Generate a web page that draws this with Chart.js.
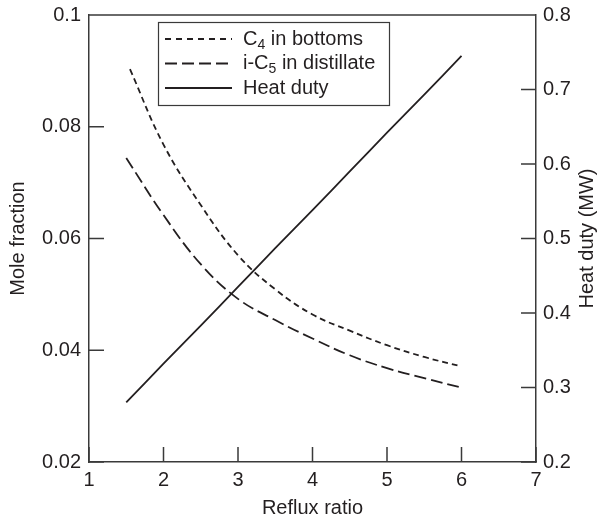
<!DOCTYPE html>
<html>
  <head>
    <meta charset="utf-8"/>
    <style type="text/css">
      body {
        margin: 0px;
        padding: 0px;
        background: #ffffff;
      }
      #wrap {
        width: 599px;
        height: 523px;
      }
    </style>
  </head>
  <body>
    <div id="wrap"><canvas id="chart" width="599" height="523"></canvas></div>
  </body>
  <script src="https://cdn.jsdelivr.net/npm/chart.js@4.4.1/dist/chart.umd.min.js"></script>
  <script>
    // values
    var refluxC4 = [1.55, 2, 2.5, 3, 3.5, 4, 4.5, 5, 5.5, 6];
    var c4Bottoms = [0.0903, 0.0768, 0.0660, 0.0570, 0.0509, 0.0464, 0.0435, 0.0409, 0.0388, 0.0371];

    var refluxIC5 = [1.5, 2, 2.5, 3, 3.5, 4, 4.5, 5, 5.5, 6];
    var ic5Distillate = [0.0744, 0.0642, 0.0554, 0.0492, 0.0454, 0.0421, 0.0391, 0.0368, 0.0350, 0.0333];

    var refluxHeat = [1.5, 2, 2.5, 3, 3.5, 4, 4.5, 5, 5.5, 6];
    var heatDuty = [0.280, 0.332, 0.383, 0.435, 0.487, 0.538, 0.590, 0.642, 0.693, 0.745];

    var seriesNames = ['C_4 in bottoms', 'i-C_5 in distillate', 'Heat duty'];

    var xTicks = [1, 2, 3, 4, 5, 6, 7];
    var leftTicks = [0.02, 0.04, 0.06, 0.08, 0.1];
    var leftLabels = ['0.02', '0.04', '0.06', '0.08', '0.1'];
    var rightTicks = [0.2, 0.3, 0.4, 0.5, 0.6, 0.7, 0.8];
    var rightLabels = ['0.2', '0.3', '0.4', '0.5', '0.6', '0.7', '0.8'];
    var rightTitle = 'Heat duty (MW)';

    var INK = '#231f20';
    var AXIS = '#3a3a3a';
    var FONT = '"Liberation Sans", Arial, sans-serif';
    var TICK = 15;

    function pts(xs, ys) {
      return xs.map(function(x, i) { return {x: x, y: ys[i]}; });
    }
    function fixTicks(values) {
      return function(scale) {
        scale.ticks = values.map(function(v) { return {value: v}; });
      };
    }
    function fitWidth(w) {
      return function(s) {
        s.width = w;
        s.paddingTop = 4;
        s.paddingBottom = 4;
      };
    }

    // little tick marks pointing into the plot, the top frame line,
    // and the right title (reads bottom to top, chart.js turns it the other way)
    var inwardTicks = {
      id: 'inwardTicks',
      afterDatasetsDraw: function(chart) {
        var ctx = chart.ctx, a = chart.chartArea, s = chart.scales;
        ctx.save();
        ctx.strokeStyle = AXIS;
        ctx.lineWidth = 1.5;
        ctx.beginPath();
        ctx.moveTo(a.left, a.top);
        ctx.lineTo(a.right, a.top);
        s.x.ticks.forEach(function(t) {
          var p = s.x.getPixelForValue(t.value);
          ctx.moveTo(p, a.bottom);
          ctx.lineTo(p, a.bottom - TICK);
        });
        s.y.ticks.forEach(function(t) {
          var p = s.y.getPixelForValue(t.value);
          ctx.moveTo(a.left, p);
          ctx.lineTo(a.left + TICK, p);
        });
        s.y2.ticks.forEach(function(t) {
          var p = s.y2.getPixelForValue(t.value);
          ctx.moveTo(a.right, p);
          ctx.lineTo(a.right - TICK, p);
        });
        ctx.stroke();

        ctx.translate(s.y2.right - 12, (a.top + a.bottom) / 2);
        ctx.rotate(-Math.PI / 2);
        ctx.fillStyle = INK;
        ctx.font = '20px ' + FONT;
        ctx.textAlign = 'center';
        ctx.textBaseline = 'middle';
        ctx.fillText(rightTitle, 0, 0);
        ctx.restore();
      }
    };

    // boxed legend with subscripts (text after "_" is one subscript char)
    var boxLegend = {
      id: 'boxLegend',
      afterDatasetsDraw: function(chart) {
        var ctx = chart.ctx;
        var bx = 158, by = 22, bw = 231, bh = 83;
        ctx.save();
        ctx.fillStyle = '#ffffff';
        ctx.fillRect(bx, by, bw, bh);
        ctx.strokeStyle = AXIS;
        ctx.lineWidth = 1.2;
        ctx.strokeRect(bx + 0.5, by + 0.5, bw, bh);
        chart.data.datasets.forEach(function(ds, i) {
          var y = by + 17 + i * 24.5;
          ctx.strokeStyle = ds.borderColor;
          ctx.lineWidth = ds.borderWidth;
          ctx.setLineDash(ds.legendDash || []);
          ctx.beginPath();
          ctx.moveTo(bx + 7, y);
          ctx.lineTo(bx + 74, y);
          ctx.stroke();
          ctx.setLineDash([]);
          var x = bx + 85;
          var parts = seriesNames[i].split('_');
          ctx.fillStyle = INK;
          ctx.textBaseline = 'middle';
          ctx.font = '20px ' + FONT;
          ctx.fillText(parts[0], x, y);
          x += ctx.measureText(parts[0]).width;
          if (parts.length > 1) {
            ctx.font = '14px ' + FONT;
            ctx.fillText(parts[1].charAt(0), x, y + 6);
            x += ctx.measureText(parts[1].charAt(0)).width;
            ctx.font = '20px ' + FONT;
            ctx.fillText(parts[1].slice(1), x, y);
          }
        });
        ctx.restore();
      }
    };

    var data = {
      datasets: [{
        label: seriesNames[0],
        data: pts(refluxC4, c4Bottoms),
        yAxisID: 'y',
        borderColor: INK,
        borderWidth: 1.8,
        borderDash: [6, 4],
        legendDash: [6, 5]
      }, {
        label: seriesNames[1],
        data: pts(refluxIC5, ic5Distillate),
        yAxisID: 'y',
        borderColor: INK,
        borderWidth: 1.8,
        borderDash: [12, 5],
        legendDash: [12, 5]
      }, {
        label: seriesNames[2],
        data: pts(refluxHeat, heatDuty),
        yAxisID: 'y2',
        borderColor: INK,
        borderWidth: 1.8
      }]
    };

    var tickFont = {family: FONT, size: 20};

    var options = {
      responsive: false,
      animation: false,
      devicePixelRatio: 1,
      layout: {padding: {top: 15, left: 0, right: 0, bottom: 0}},
      elements: {
        point: {radius: 0},
        line: {tension: 0.4}
      },
      plugins: {
        legend: {display: false},
        tooltip: {enabled: false}
      },
      scales: {
        x: {
          type: 'linear',
          min: 1,
          max: 7,
          afterBuildTicks: fixTicks(xTicks),
          afterFit: function(s) { s.height = 61; },
          grid: {display: false, drawTicks: false},
          border: {display: true, color: AXIS, width: 1.5},
          ticks: {color: INK, font: tickFont, padding: 6},
          title: {display: true, text: 'Reflux ratio', color: INK, font: tickFont, padding: {top: 0, bottom: 3}}
        },
        y: {
          type: 'linear',
          position: 'left',
          min: 0.02,
          max: 0.1,
          afterBuildTicks: fixTicks(leftTicks),
          afterFit: fitWidth(89),
          grid: {display: false, drawTicks: false},
          border: {display: true, color: AXIS, width: 1.5},
          ticks: {
            color: INK, font: tickFont, padding: 8,
            callback: function(v) { return leftLabels[leftTicks.indexOf(v)]; }
          },
          title: {display: true, text: 'Mole fraction', color: INK, font: tickFont, padding: {top: 6, bottom: 0}}
        },
        y2: {
          type: 'linear',
          position: 'right',
          min: 0.2,
          max: 0.8,
          afterBuildTicks: fixTicks(rightTicks),
          afterFit: fitWidth(63),
          grid: {display: false, drawTicks: false},
          border: {display: true, color: AXIS, width: 1.5},
          ticks: {
            color: INK, font: tickFont, padding: 7,
            callback: function(v) { return rightLabels[rightTicks.indexOf(v)]; }
          }
        }
      }
    };

    var chart = new Chart(document.getElementById('chart'), {
      type: 'line',
      data: data,
      options: options,
      plugins: [inwardTicks, boxLegend]
    });
  </script>
</html>
